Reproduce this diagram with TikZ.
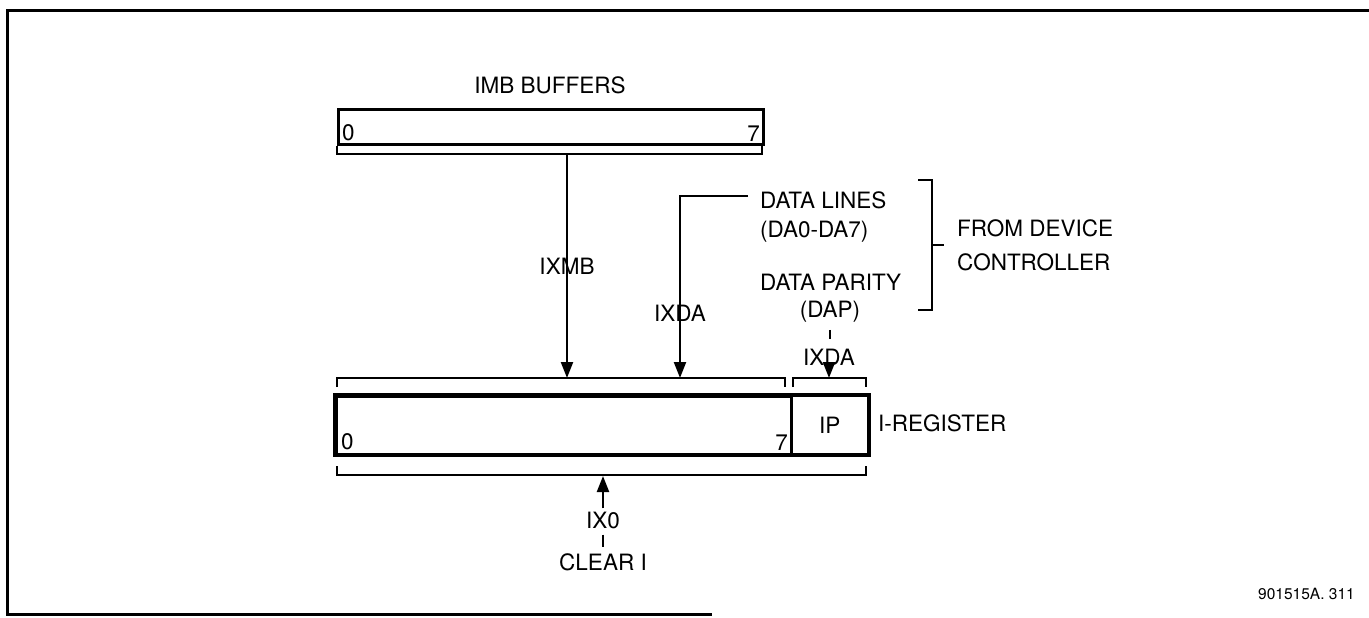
\documentclass[tikz,border=0pt]{standalone}
\usepackage{fontspec}
\setmainfont{TeX Gyre Heros}
\usetikzlibrary{arrows.meta}
\begin{document}
\begin{tikzpicture}[x=1pt,y=-1pt,
  lbl/.style={inner sep=0pt, font=\fontsize{22.5}{26}\selectfont},
  small/.style={inner sep=0pt, font=\fontsize{15.5}{18}\selectfont},
  reg/.style={draw, line width=3.2pt, inner sep=0pt},
  brk/.style={line width=2.8pt},
  conn/.style={line width=2.3pt},
  arr/.style={conn,-{Triangle[length=16pt,width=12pt]}}]
\useasboundingbox (0,0) rectangle (1369,618);
% frame
\draw[line width=3pt] (1369,11) -- (7,11) -- (7,614) -- (712,614);

% IMB buffers
\node[lbl] (imbl) at (550,85) {IMB BUFFERS};
\node[reg, minimum width=425pt, minimum height=35pt, anchor=north west] (imb) at (337,108) {};
\node[lbl, anchor=south west] (imb0) at ([xshift=5pt,yshift=5pt]imb.south west) {0};
\node[lbl, anchor=south east] (imb7) at ([xshift=-5pt,yshift=5pt]imb.south east) {7};
\draw[brk] (337,146) -- (337,154) -- (762,154) -- (762,146);
\coordinate (imbout) at (567,154);

% I-register
\node[reg, minimum width=455pt, minimum height=58pt, anchor=north west] (ireg) at (335,395) {};
\node[reg, line width=2.4pt, minimum width=77pt, minimum height=58pt, anchor=north west] (ip) at (790,395) {};
\draw[line width=3.2pt] (ireg.north west) rectangle (ip.south east);
\node[lbl] (ipl) at (ip.center) {IP};
\node[lbl, anchor=west] (iregl) at (878,423) {I-REGISTER};
\node[lbl, anchor=south west] (ireg0) at ([xshift=6pt,yshift=6pt]ireg.south west) {0};
\node[lbl, anchor=south east] (ireg7) at ([xshift=-5pt,yshift=6pt]ireg.south east) {7};
\draw[brk] (337,387) -- (337,378) -- (785,378) -- (785,387);
\draw[brk] (793,387) -- (793,378) -- (866,378) -- (866,387);
\draw[brk] (337,466) -- (337,475) -- (866,475) -- (866,466);
\coordinate (imbin) at (567,378);
\coordinate (dain) at (680,378);
\coordinate (ipin) at (829,378);
\coordinate (clrin) at (603,476);

% IXMB
\draw[arr] (imbout) -- (imbin);
\node[lbl] (ixmb) at (567,266) {IXMB};

% data lines
\node[lbl, anchor=west] (dl) at (760,200) {DATA LINES};
\node[lbl, anchor=west] (dl2) at (760,232) {(DA0-DA7)};
\node[lbl, anchor=west] (dp) at (760,282) {DATA PARITY};
\node[lbl] (dp2) at (830,312) {(DAP)};
\coordinate (dlst) at (748,196);
\draw[arr] (dlst) -| (dain);
\node[lbl] (ixda) at (680,313) {IXDA};

% parity
\node[lbl] (ixda2) at (829,357) {IXDA};
\draw[conn] ([yshift=-7pt]dp2.south) -- ([yshift=-16pt]dp2.south);
\draw[arr] ([yshift=-3pt]ixda2.south) -- (ipin);

% right bracket
\draw[brk] (918,180) -- (932,180) -- (932,310) -- (918,310);
\draw[brk] (932,245) -- (944,245);
\node[lbl, anchor=west] (from) at (957,228) {FROM DEVICE};
\node[lbl, anchor=west] (ctrl) at (957,262) {CONTROLLER};

% clear
\node[lbl] (ix0) at (603,520) {IX0};
\node[lbl] (clr) at (603,562) {CLEAR I};
\draw[arr] ([yshift=3pt]ix0.north) -- (clrin);
\draw[conn] ([yshift=-6pt]ix0.south) -- ([yshift=6pt]clr.north);

\node[small, anchor=east] (ref) at (1355,594) {901515A. 311};
\end{tikzpicture}
\end{document}
